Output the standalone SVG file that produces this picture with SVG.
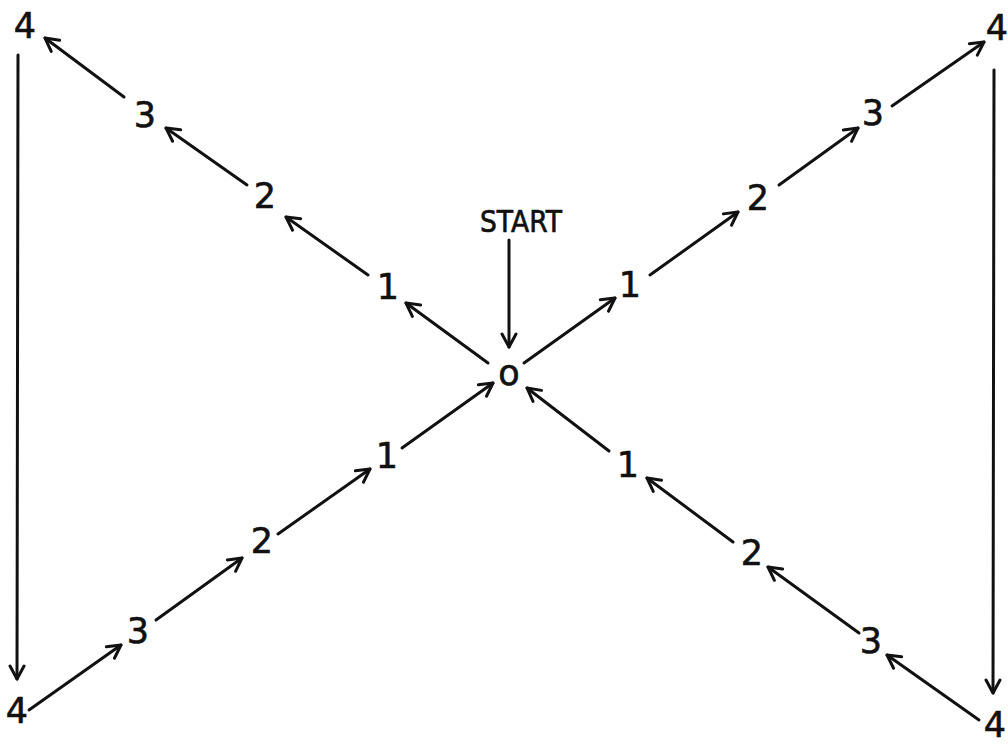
<svg xmlns="http://www.w3.org/2000/svg" width="1008" height="744" viewBox="0 0 1008 744">
<defs>
<style>
.lbl{font-family:"DejaVu Sans","Liberation Sans",sans-serif;font-size:35px;fill:#111;stroke:#111;stroke-width:0.6;text-anchor:middle}
.start{font-family:"DejaVu Sans","Liberation Sans",sans-serif;font-size:30px;fill:#111;stroke:#111;stroke-width:0.7;text-anchor:middle}
.c line{stroke:#111;stroke-width:3;stroke-linecap:round;fill:none;marker-end:url(#ah)}
</style>
<marker id="ah" markerUnits="userSpaceOnUse" markerWidth="30" markerHeight="30" viewBox="-15 -15 30 30" refX="0" refY="0" orient="auto">
<path d="M-13,-7 L0,0 L-13,7" fill="none" stroke="#111" stroke-width="3" stroke-linecap="round" stroke-linejoin="round"/>
</marker>
</defs>
<rect width="1008" height="744" fill="#fff"/>
<g id="connectors" class="c">
<line x1="509" y1="240" x2="509" y2="347"/>
<line x1="488" y1="363" x2="406" y2="303"/>
<line x1="368" y1="275" x2="286" y2="217"/>
<line x1="247" y1="185" x2="166" y2="128"/>
<line x1="124" y1="97" x2="45" y2="38"/>
<line x1="18" y1="55" x2="17" y2="679"/>
<line x1="29" y1="710" x2="121" y2="645"/>
<line x1="156" y1="620" x2="242" y2="558"/>
<line x1="278" y1="534" x2="370" y2="469"/>
<line x1="402" y1="448" x2="493" y2="383"/>
<line x1="524" y1="363" x2="615" y2="298"/>
<line x1="650" y1="275" x2="738" y2="212"/>
<line x1="779" y1="185" x2="858" y2="128"/>
<line x1="892" y1="106" x2="984" y2="42"/>
<line x1="994" y1="70" x2="993" y2="693"/>
<line x1="979" y1="720" x2="887" y2="655"/>
<line x1="859" y1="633" x2="768" y2="567"/>
<line x1="733" y1="542" x2="647" y2="478"/>
<line x1="609" y1="451" x2="527" y2="388"/>
</g>
<g id="start"><text class="start" x="521" y="232" textLength="82" lengthAdjust="spacingAndGlyphs">START</text></g>
<g id="n0"><text class="lbl" x="509" y="385">o</text></g>
<g id="ul1"><text class="lbl" x="388" y="299">1</text></g>
<g id="ul2"><text class="lbl" x="265" y="208">2</text></g>
<g id="ul3"><text class="lbl" x="145" y="127">3</text></g>
<g id="ul4"><text class="lbl" x="25" y="38">4</text></g>
<g id="ur1"><text class="lbl" x="630" y="297">1</text></g>
<g id="ur2"><text class="lbl" x="758" y="210">2</text></g>
<g id="ur3"><text class="lbl" x="873" y="125">3</text></g>
<g id="ur4"><text class="lbl" x="997" y="40">4</text></g>
<g id="ll1"><text class="lbl" x="387" y="468">1</text></g>
<g id="ll2"><text class="lbl" x="262" y="553">2</text></g>
<g id="ll3"><text class="lbl" x="138" y="643">3</text></g>
<g id="ll4"><text class="lbl" x="17" y="723">4</text></g>
<g id="lr1"><text class="lbl" x="628" y="477">1</text></g>
<g id="lr2"><text class="lbl" x="752" y="565">2</text></g>
<g id="lr3"><text class="lbl" x="871" y="653">3</text></g>
<g id="lr4"><text class="lbl" x="995" y="737">4</text></g>
</svg>
